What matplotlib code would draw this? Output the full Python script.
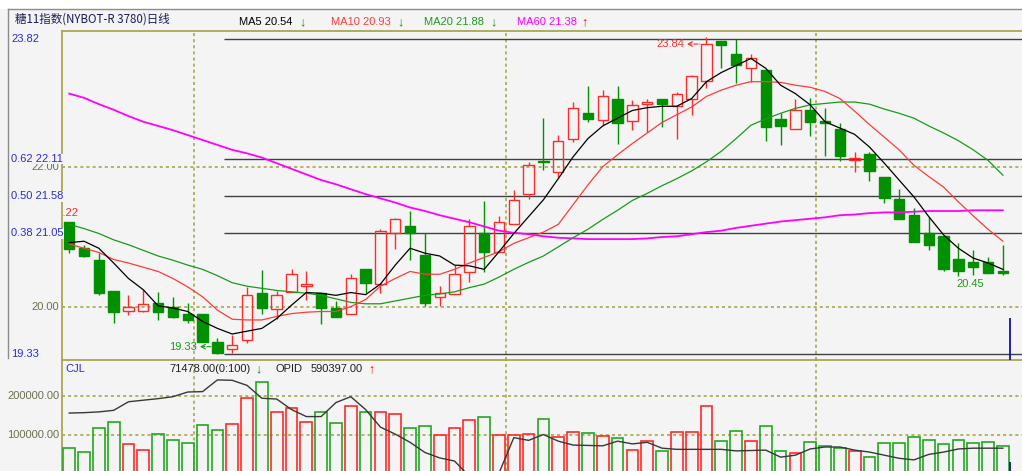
import numpy as np
import matplotlib
matplotlib.use('Agg')
import matplotlib.pyplot as plt

# ---- data (64 daily candles) ----
opens = [21.21, 20.84, 20.67, 20.23, 19.95, 19.95, 20.06, 20.01, 19.91, 19.91,
         19.51, 19.40, 19.54, 20.21, 19.98, 20.22, 20.31, 20.20, 19.99, 19.91,
         20.54, 20.33, 21.05, 21.16, 20.74, 20.14, 20.19, 20.50, 21.06, 20.79,
         21.18, 21.61, 22.08, 21.92, 22.40, 22.76, 22.67, 22.97, 22.65, 22.89,
         22.97, 22.86, 22.96, 23.22, 23.79, 23.60, 23.41, 23.37, 22.68, 22.53,
         22.81, 22.65, 22.53, 22.09, 22.18, 21.86, 21.54, 21.32, 21.05, 21.02,
         20.69, 20.65, 20.64, 20.52]
highs = [21.22, 20.89, 20.77, 20.23, 20.17, 20.25, 20.22, 20.14, 20.06, 19.91,
         19.57, 19.61, 20.29, 20.53, 20.23, 20.54, 20.52, 20.20, 20.09, 20.47,
         20.54, 21.12, 21.27, 21.37, 21.05, 20.30, 20.60, 21.25, 21.51, 21.30,
         21.67, 22.07, 22.69, 22.45, 22.92, 23.15, 23.09, 23.15, 22.95, 22.97,
         22.97, 23.07, 23.30, 23.84, 23.79, 23.81, 23.60, 23.37, 22.76, 22.97,
         22.98, 22.83, 22.62, 22.21, 22.21, 21.86, 21.69, 21.41, 21.29, 21.02,
         20.91, 20.82, 20.71, 20.89]
lows = [20.77, 20.71, 20.17, 19.78, 19.89, 19.94, 19.82, 19.85, 19.77, 19.51,
        19.33, 19.35, 19.49, 19.90, 19.84, 20.22, 20.10, 19.76, 19.86, 19.91,
        20.20, 20.21, 20.83, 20.67, 20.02, 20.02, 20.19, 20.36, 20.50, 20.79,
        21.18, 21.54, 21.95, 21.86, 22.35, 22.64, 22.59, 22.33, 22.52, 22.50,
        22.57, 22.39, 22.74, 23.12, 23.41, 23.19, 23.21, 22.37, 22.31, 22.53,
        22.43, 22.15, 22.08, 21.93, 21.79, 21.49, 21.26, 20.93, 20.81, 20.52,
        20.45, 20.46, 20.49, 20.46]
closes = [20.83, 20.73, 20.20, 19.94, 20.01, 20.04, 19.93, 19.86, 19.82, 19.51,
          19.35, 19.46, 20.17, 19.99, 20.17, 20.47, 20.33, 19.99, 19.86, 20.42,
          20.35, 21.09, 21.25, 21.06, 20.06, 20.21, 20.48, 21.16, 20.78, 21.21,
          21.53, 22.03, 22.06, 22.37, 22.83, 22.68, 23.01, 22.62, 22.88, 22.92,
          22.89, 23.04, 23.29, 23.75, 23.73, 23.44, 23.55, 22.57, 22.58, 22.81,
          22.63, 22.62, 22.15, 22.13, 21.94, 21.56, 21.26, 20.93, 20.89, 20.54,
          20.52, 20.57, 20.49, 20.49]

ma5 = [20.92, 20.94, 20.84, 20.63, 20.41, 20.25, 20.02, 19.99, 19.94, 19.80,
       19.70, 19.62, 19.66, 19.70, 19.84, 20.03, 20.21, 20.20, 20.17, 20.21,
       20.18, 20.33, 20.60, 20.84, 20.77, 20.73, 20.60, 20.59, 20.54, 20.79,
       21.05, 21.29, 21.53, 21.83, 22.14, 22.40, 22.58, 22.69, 22.80, 22.84,
       22.86, 22.86, 22.97, 23.21, 23.34, 23.44, 23.54, 23.40, 23.16, 23.04,
       22.88, 22.64, 22.55, 22.46, 22.28, 22.05, 21.81, 21.57, 21.29, 21.03,
       20.84, 20.70, 20.63, 20.54]
ma10 = [20.90, 20.84, 20.78, 20.68, 20.63, 20.57, 20.51, 20.41, 20.29, 20.15,
        19.96, 19.83, 19.82, 19.82, 19.87, 19.91, 19.93, 19.94, 19.94, 20.01,
        20.11, 20.30, 20.41, 20.51, 20.47, 20.47, 20.54, 20.63, 20.71, 20.79,
        20.91, 20.99, 21.07, 21.18, 21.46, 21.74, 22.00, 22.17, 22.33, 22.48,
        22.63, 22.74, 22.85, 23.00, 23.09, 23.16, 23.21, 23.21, 23.20, 23.16,
        23.13, 23.07, 22.97, 22.79, 22.60, 22.42, 22.24, 22.02, 21.86, 21.71,
        21.50, 21.30, 21.11, 20.94]
ma20 = [21.18, 21.12, 21.05, 20.96, 20.89, 20.81, 20.73, 20.67, 20.60, 20.54,
        20.45, 20.35, 20.30, 20.27, 20.24, 20.22, 20.20, 20.17, 20.12, 20.07,
        20.05, 20.05, 20.09, 20.13, 20.17, 20.19, 20.22, 20.28, 20.33, 20.43,
        20.54, 20.64, 20.73, 20.86, 20.99, 21.11, 21.25, 21.38, 21.52, 21.62,
        21.73, 21.83, 21.94, 22.07, 22.22, 22.40, 22.59, 22.68, 22.76, 22.83,
        22.88, 22.90, 22.92, 22.92, 22.89, 22.82, 22.76, 22.69, 22.58, 22.48,
        22.37, 22.24, 22.09, 21.88]
ma60 = [23.04, 22.98, 22.89, 22.81, 22.72, 22.64, 22.58, 22.52, 22.45, 22.38,
        22.31, 22.24, 22.19, 22.13, 22.05, 21.97, 21.89, 21.81, 21.75, 21.68,
        21.61, 21.55, 21.49, 21.42, 21.37, 21.31, 21.26, 21.21, 21.15, 21.09,
        21.06, 21.04, 21.01, 20.99, 20.98, 20.97, 20.97, 20.97, 20.97, 20.98,
        21.00, 21.01, 21.04, 21.07, 21.09, 21.13, 21.16, 21.19, 21.22, 21.24,
        21.26, 21.28, 21.31, 21.32, 21.34, 21.35, 21.35, 21.36, 21.37, 21.37,
        21.37, 21.38, 21.38, 21.38]

volume = [68000, 58000, 118000, 133000, 77000, 63000, 103000, 87000, 79000, 126000,
          113000, 128000, 195000, 237000, 161000, 170000, 133000, 159000, 131000, 175000,
          159000, 161000, 154000, 118000, 124000, 100000, 118000, 138000, 146000, 100000,
          100000, 103000, 142000, 96000, 108000, 105000, 98000, 92000, 63000, 85000,
          61000, 108000, 108000, 174000, 86000, 110000, 85000, 124000, 59000, 55000,
          82000, 73000, 67000, 61000, 45000, 79000, 79000, 95000, 87000, 77000,
          87000, 79000, 82000, 71478]
opid_line = [157000, 158000, 160000, 164000, 186000, 190000, 194000, 199000, 211000, 212000,
             242000, 241000, 228000, 195000, 193000, 166000, 148000, 148000, 184000, 199000,
             166000, 121000, 103000, 82000, 56000, 42000, 34000, -5000, -20000, 3000,
             94000, 87000, 102000, 85000, 75000, 74000, 73000, 85000, 78000, 82000,
             67000, 64000, 64000, 64000, 64000, 60000, 61000, 62000, 44000, 49000,
             65000, 70000, 70000, 62000, 57000, 49000, 41000, 37000, 51000, 57000,
             65000, 67000, 67000, 67000]

fib_ratios = ['', '0.62', '0.50', '0.38', '']
fib_levels = [23.82, 22.11, 21.58, 21.05, 19.33]
grid_prices = [22.00, 20.00]
grid_volumes = [200000, 100000]
month_breaks = [8.45, 29.45, 50.4]

ma_names = ['MA5', 'MA10', 'MA20', 'MA60']
ma_last = [20.54, 20.93, 21.88, 21.38]
ma_arrows = ['↓', '↓', '↓', '↑']

# ---- colours ----
BG = '#f4f4f4'
RED = '#ff2a2a'
GREEN = '#009000'
VGREEN = '#22a822'
OLIVE = '#a8a850'
DOT = '#a0a040'
BLUE = '#2b2bd9'
GRAYTXT = '#6e6e50'
LAT = ['Liberation Sans', 'DejaVu Sans']

W, H = 1022, 471
fig = plt.figure(figsize=(W / 100, H / 100), dpi=100, facecolor=BG)


def fx(px):
    return px / W


def fy(py):
    return 1 - py / H


# top white strip and window frame lines
fig.patches.append(plt.Rectangle((0, fy(9.3)), 1, 9.3 / H, transform=fig.transFigure,
                                 facecolor='white', edgecolor='none'))
fig.lines.append(plt.Line2D([fx(8.3), 1], [fy(9.3), fy(9.3)], transform=fig.transFigure,
                            color='#8c8c8c', lw=1.0))
fig.lines.append(plt.Line2D([fx(8.3), fx(8.3)], [fy(9.3), fy(358)], transform=fig.transFigure,
                            color='#8c8c8c', lw=1.0))

left_px, top_px, mid_px = 61.7, 30.7, 360.3
ax = fig.add_axes([fx(left_px), fy(mid_px), (W - left_px) / W, (mid_px - top_px) / H])
axv = fig.add_axes([fx(left_px), 0, (W - left_px) / W, (H - mid_px) / H])

x = np.arange(len(opens))
o, h, l, c = map(np.array, (opens, highs, lows, closes))
up = c >= o
body_lo = np.minimum(o, c)
body_hi = np.maximum(o, c)
body_h = np.maximum(body_hi - body_lo, 0.006)

for a in (ax, axv):
    a.set_facecolor('none')
    a.set_xlim(-0.506, 64.29)
    a.set_xticks([])
    a.set_yticks([])
    for s in a.spines.values():
        s.set_visible(False)
    for xb in month_breaks:
        a.axvline(xb, color=DOT, lw=1.1, ls=(0, (2, 2)), zorder=1)

ax.set_ylim(19.246, 23.935)
axv.set_ylim(8460, 292300)
for s in ('top', 'left', 'bottom'):
    ax.spines[s].set_visible(True)
    ax.spines[s].set_color(OLIVE)
    ax.spines[s].set_linewidth(1.3)
axv.spines['left'].set_visible(True)
axv.spines['left'].set_color(OLIVE)
axv.spines['left'].set_linewidth(1.3)

for gp in grid_prices:
    ax.axhline(gp, color=DOT, lw=1.1, ls=(0, (2, 2)), zorder=1)
for gv in grid_volumes:
    axv.axhline(gv, color=DOT, lw=1.1, ls=(0, (2, 2)), zorder=1)

# fibonacci levels
ax.hlines(fib_levels, 10.45, 64.29, color='#404040', lw=1.0, zorder=2)

# candles
for mask, col in ((up, RED), (~up, GREEN)):
    ax.vlines(x[mask], l[mask], body_lo[mask], color=col, lw=1.0, zorder=3)
    ax.vlines(x[mask], body_hi[mask], h[mask], color=col, lw=1.0, zorder=3)
ax.bar(x[up], body_h[up], bottom=body_lo[up], width=0.7, facecolor='none',
       edgecolor=RED, lw=1.0, zorder=3)
ax.bar(x[~up], body_h[~up], bottom=body_lo[~up], width=0.7, facecolor=GREEN,
       edgecolor=GREEN, lw=1.0, zorder=3)

# moving averages
ax.plot(x, ma60, color='#ff00ff', lw=1.3, zorder=4)
ax.plot(x, ma20, color='#1a9a1a', lw=0.9, zorder=4)
ax.plot(x, ma10, color='#ff3b3b', lw=0.9, zorder=4)
ax.plot(x, ma5, color='black', lw=0.9, zorder=4)

# price annotations
ax.text(0.594, 21.337, '21.22', color=RED, fontsize=8, family=LAT, ha='right',
        va='center', clip_on=True)
ax.annotate('19.33', xy=(9.7, 19.44), xytext=(8.62, 19.44), color='#1a9a1a', fontsize=8,
            family=LAT, ha='right', va='center',
            arrowprops=dict(arrowstyle='<-', color='#1a9a1a', lw=0.8, ls='--',
                            shrinkA=0, shrinkB=0))
ax.annotate('23.84', xy=(42.56, 23.745), xytext=(41.48, 23.745), color=RED, fontsize=8,
            family=LAT, ha='right', va='center',
            arrowprops=dict(arrowstyle='<-', color=RED, lw=0.8, ls='--',
                            shrinkA=0, shrinkB=0))
ax.text(60.78, 20.327, '20.45', color='#1a9a1a', fontsize=8, family=LAT,
        ha='center', va='center')

# cursor marker at the right
ax.vlines(63.48, 19.246, 19.85, color='#1010b0', lw=1.3, zorder=5)
axv.vlines(63.48, 8460, 32000, color='#1010b0', lw=1.3, zorder=5)

# price axis labels (left margin)
ytr = ax.get_yaxis_transform()
lx = (11 - left_px) / (W - left_px)
rx = (59.5 - left_px) / (W - left_px)
for gp in grid_prices:
    ax.text(rx, gp, f'{gp:.2f}', transform=ytr, color=GRAYTXT, fontsize=8, family=LAT,
            ha='right', va='center', clip_on=False)
for ratio, lvl in zip(fib_ratios, fib_levels):
    lab = f'{ratio} {lvl:.2f}' if ratio else f'{lvl:.2f}'
    ax.text(lx, lvl, lab, transform=ytr, color=BLUE, fontsize=8, family=LAT,
            ha='left', va='center', clip_on=False,
            bbox=dict(facecolor=BG, edgecolor='none', pad=0.3) if ratio else None)

# volume panel
vol = np.array(volume)
axv.bar(x[up], vol[up], width=0.79, facecolor='none', edgecolor=RED, lw=1.2, zorder=3)
axv.bar(x[~up], vol[~up], width=0.79, facecolor='none', edgecolor=VGREEN, lw=1.2, zorder=3)
axv.plot(x, opid_line, color='#383838', lw=1.0, zorder=4)
vtr = axv.get_yaxis_transform()
for gv in grid_volumes:
    axv.text(rx, gv, f'{gv:.2f}', transform=vtr, color=GRAYTXT, fontsize=8, family=LAT,
             ha='right', va='center', clip_on=False)

# header texts
fig.text(fx(15), fy(19), '糖11指数(NYBOT-R 3780)日线', fontsize=8.3,
         family=['Noto Sans CJK SC', 'DejaVu Sans'], color='#1c1c5c', va='center')
ma_cols = ['black', '#ff3b3b', '#1a9a1a', '#ff00ff']
ma_x = [239, 331, 424, 516.7]
arr_x = [299, 397, 490, 581]
for name, val, arr, col, px, ax_px in zip(ma_names, ma_last, ma_arrows, ma_cols, ma_x, arr_x):
    fig.text(fx(px), fy(22), f'{name} {val:.2f}', color=col, fontsize=8, family=LAT,
             va='center')
    fig.text(fx(ax_px), fy(22), arr, color='#109010' if arr == '↓' else 'red',
             fontsize=9, fontweight='bold', family=LAT, va='center')

fig.text(fx(65), fy(369), 'CJL', color=BLUE, fontsize=8, family=LAT, va='center')
fig.text(fx(169), fy(369), f'{volume[-1]:.2f}(0:100)', color='#202020', fontsize=8,
         family=LAT, va='center')
fig.text(fx(255), fy(369), '↓', color='#109010', fontsize=9, fontweight='bold',
         family=LAT, va='center')
fig.text(fx(275), fy(369), 'OPID', color='#202020', fontsize=8, family=LAT, va='center')
fig.text(fx(311), fy(369), '590397.00', color='#202020', fontsize=8, family=LAT, va='center')
fig.text(fx(368), fy(369), '↑', color='red', fontsize=9, fontweight='bold',
         family=LAT, va='center')

fig.savefig('out.png', dpi=100, facecolor=BG)
